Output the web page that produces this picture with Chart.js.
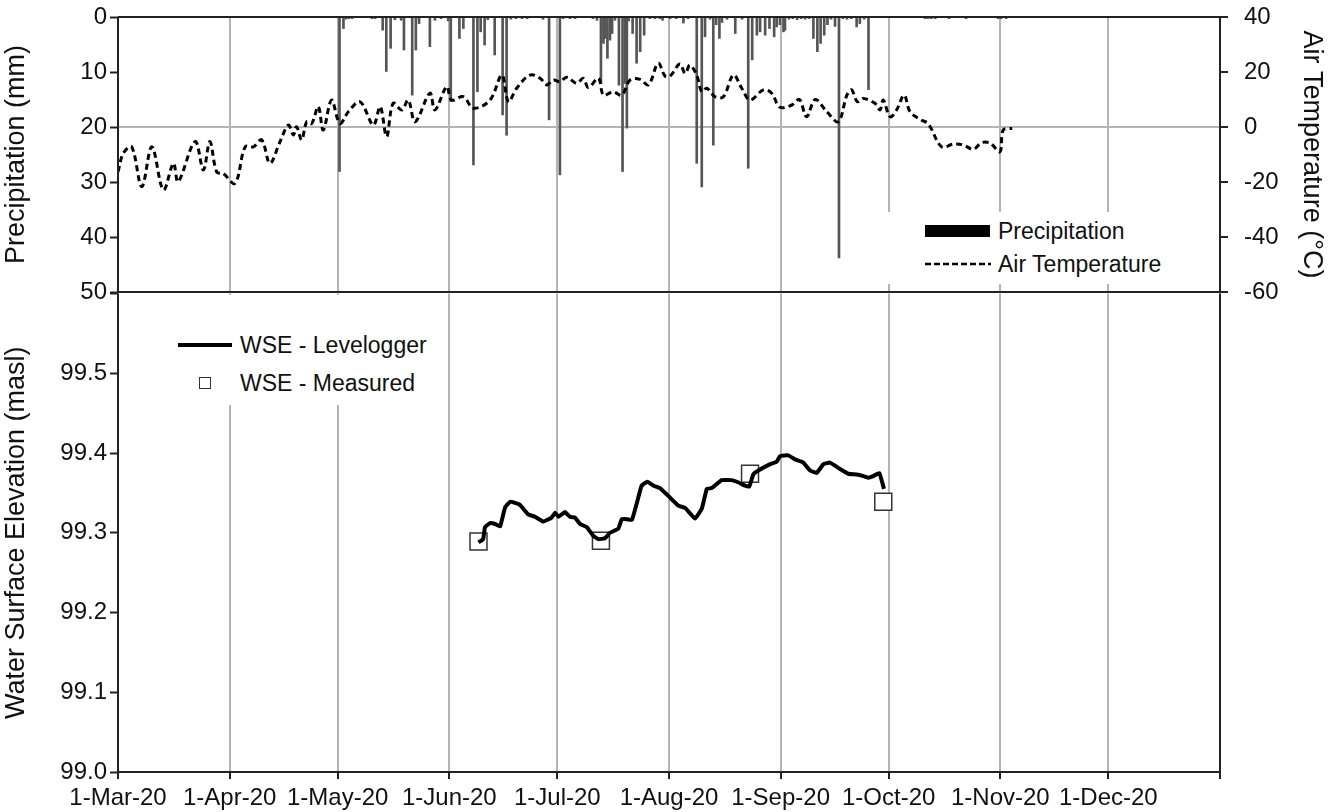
<!DOCTYPE html>
<html>

<head>
    <meta charset="utf-8">
    <script src="https://cdn.jsdelivr.net/npm/chart.js@4.4.7/dist/chart.umd.min.js"></script>
    <style>
        body { margin: 0; background: #fff; }
        #wrap { position: relative; width: 1328px; height: 812px; font-family: "Liberation Sans", Arial, sans-serif; color: #111; }
        canvas { position: absolute; left: 0; }
        .box { position: absolute; background: #fff; }
        .lbl { position: absolute; font-size: 23px; line-height: 26px; white-space: nowrap; }
    </style>
</head>

<body>
    <div id="wrap">
        <canvas id="top" width="1328" height="310" style="top:0"></canvas>
        <canvas id="bottom" width="1328" height="532" style="top:280px"></canvas>

        <!-- legend of the top panel -->
        <div class="box" style="left:878px; top:212px; width:330px; height:72px;"></div>
        <div class="box" style="left:925px; top:225px; width:65px; height:12px; background:#000;"></div>
        <div class="lbl" style="left:998px; top:218px;">Precipitation</div>
        <svg style="position:absolute; left:925px; top:262px;" width="66" height="4">
            <line x1="0" y1="2" x2="66" y2="2" stroke="#000" stroke-width="2.5" stroke-dasharray="6,3"></line>
        </svg>
        <div class="lbl" style="left:998px; top:251px;">Air Temperature</div>

        <!-- legend of the bottom panel -->
        <div class="box" style="left:140px; top:295px; width:300px; height:110px;"></div>
        <div class="box" style="left:178px; top:343px; width:54px; height:4px; background:#000;"></div>
        <div class="lbl" style="left:240px; top:332px;">WSE - Levelogger</div>
        <div class="box" style="left:199px; top:377px; width:10px; height:10px; border:1.5px solid #333;"></div>
        <div class="lbl" style="left:240px; top:370px;">WSE - Measured</div>
    </div>

    <script>
        // days counted from 1-Mar-20
        const monthDays = [0, 31, 61, 92, 122, 153, 184, 214, 245, 275, 306];
        const monthLabels = ["1-Mar-20", "1-Apr-20", "1-May-20", "1-Jun-20", "1-Jul-20", "1-Aug-20",
            "1-Sep-20", "1-Oct-20", "1-Nov-20", "1-Dec-20", ""];

        const tempDays = [0, 1.5, 3.8, 6.6, 9.4, 12.6, 15.4, 16.7, 21.4, 23.7, 25.5, 27.4, 29.2, 32.5, 35.3, 37.6,
            39.9, 42.2, 45.0, 47.3, 48.7, 49.6, 51.0, 52.4, 53.8, 55.6, 57.0, 59.3, 61.6, 64.0, 67.2, 70.9,
            72.8, 74.6, 76.4, 78.8, 80.6, 82.5, 86.6, 88.0, 91.3, 92.6, 95.9, 98.7, 103.3, 106.6, 108.4, 110.7,
            114.4, 117.2, 119.1, 120.9, 122.7, 124.6, 127.4, 129.2, 130.6, 133.4, 134.8, 137.5, 139.9, 142.2,
            145.0, 147.3, 150.0, 151.9, 153.3, 156.0, 157.5, 158.8, 160.7, 162.1, 163.5, 165.8, 168.1, 170.9,
            173.2, 175.5, 179.2, 181.5, 183.8, 187.1, 189.2, 191.2, 193.6, 196.8, 200.0, 202.4, 203.7, 205.3,
            207.0, 210.2, 211.6, 212.5, 214.4, 216.2, 218.3, 219.9, 222.7, 225.0, 228.7, 232.0, 234.7, 237.5,
            239.8, 242.2, 244.9, 245.8, 248.3];
        const tempValues = [-16.3, -9.5, -7.2, -21.7, -7.2, -22.9, -13.2, -19.9, -5.3, -15.6, -5.3, -16.3, -16.9, -20.5, -7.2, -7.2,
            -4.7, -13.2, -5.3, 0.7, -2.9, 0.1, -4.7, 1.9, 1.3, 7.4, -1.1, 9.8, 1.3, 5.6, 9.2, 0.7,
            7.4, -3.5, 8.6, 6.2, 9.8, 1.9, 12.3, 6.2, 14.7, 9.8, 11.0, 6.8, 9.8, 18.9, 9.2, 14.1,
            18.9, 17.7, 15.3, 17.1, 16.5, 18.1, 15.9, 17.7, 14.4, 17.7, 11.6, 12.8, 11.6, 17.1,
            17.3, 15.3, 23.2, 18.5, 18.5, 22.9, 19.5, 22.5, 18.9, 12.8, 14.1, 11.0, 11.0, 18.9,
            14.1, 9.8, 13.5, 12.3, 7.2, 8.0, 10.0, 3.7, 10.0, 5.6, 1.9, 11.6, 13.5, 9.2,
            10.4, 8.6, 6.2, 9.8, 3.7, 6.2, 11.6, 5.6, 2.8, 1.1, -7.2, -6.2, -6.5, -8.1,
            -5.7, -5.9, -9.0, -1.1, -0.5];

        const precipDays = [61.5, 62.6, 63.3, 64.1, 65.0, 70.5, 71.4, 73.5, 74.5, 75.7, 76.9, 78.6, 79.4, 81.7, 82.7, 83.6,
            86.6, 88.0, 89.7, 91.7, 92.4, 94.8, 95.9, 98.7, 99.8, 100.7, 101.8, 102.7, 104.6, 106.8, 107.9, 109.1,
            110.5, 112.2, 113.6, 118.0, 119.7, 122.7, 123.6, 125.5, 126.9, 131.9, 133.0, 134.1, 134.8, 135.3,
            135.9, 136.6, 137.2, 138.0, 139.1, 140.1, 140.8, 141.3, 141.8, 142.9, 144.0, 145.0, 146.1, 147.7,
            149.1, 150.5, 151.2, 153.3, 155.0, 157.0, 158.3, 160.7, 162.1, 163.0, 164.4, 165.3, 166.1, 167.0,
            167.7, 169.1, 171.4, 173.3, 175.0, 176.1, 177.4, 178.3, 179.7, 180.9, 182.2, 182.9, 183.8, 184.8,
            185.2, 186.3, 187.4, 188.6, 189.7, 190.8, 191.9, 193.1, 194.2, 195.1, 196.1, 197.0, 198.0, 199.1,
            200.2, 201.3, 202.4, 203.6, 205.1, 206.0, 207.2, 208.4, 224.1, 224.9, 225.8, 226.9, 230.8, 235.5,
            244.4, 245.2, 246.6];
        const precipValues = [28.1, 2.1, 0.4, 0.3, 0.3, 0.3, 0.3, 2.4, 9.9, 5.7, 0.5, 0.6, 6.0, 14.2, 6.0, 1.2,
            5.4, 0.6, 0.3, 0.7, 15.4, 3.9, 2.1, 26.9, 13.6, 2.7, 5.1, 0.5, 6.9, 17.8, 21.5, 0.4,
            0.3, 0.3, 0.3, 0.4, 18.7, 28.7, 0.3, 0.3, 0.3, 0.3, 0.6, 12.1, 4.8, 3.9,
            7.5, 4.2, 3.0, 0.6, 12.4, 28.1, 12.1, 20.2, 0.7, 3.0, 8.4, 6.3, 3.3, 0.3,
            0.3, 0.3, 0.6, 0.3, 0.3, 1.1, 0.3, 26.6, 30.9, 3.6, 0.4, 23.3, 1.4, 3.9,
            1.0, 0.4, 3.0, 0.4, 27.5, 7.8, 3.3, 2.7, 3.3, 2.1, 3.6, 1.8, 1.4, 2.7,
            2.4, 0.4, 0.3, 0.5, 0.3, 0.4, 0.3, 3.9, 6.3, 4.8, 3.3, 1.4, 0.4, 1.7,
            43.8, 0.3, 0.4, 0.3, 1.8, 1.2, 0.4, 13.2, 0.3, 0.3, 0.3, 0.3, 0.3, 0.3,
            0.3, 0.3, 0.3];

        const wseDays = [100.1, 101.4, 101.9, 103.3, 104.7, 106.1, 107.5, 108.9, 111.6, 113.9, 115.8, 118.1, 120.4, 121.4,
            122.3, 124.1, 125.5, 126.9, 128.3, 130.2, 132.0, 133.4, 135.2, 136.6, 138.9, 139.9, 141.3, 142.7,
            144.0, 145.4, 147.0, 148.7, 150.5, 153.3, 155.6, 157.5, 160.2, 162.1, 163.5, 164.9, 167.6, 170.4,
            172.3, 174.1, 175.3, 176.4, 177.8, 181.1, 182.9, 183.8, 186.1, 188.0, 190.3, 192.2, 194.0, 195.9,
            197.7, 200.5, 202.8, 205.1, 207.0, 208.4, 209.7, 211.4, 212.7];
        const wseValues = [99.288, 99.292, 99.307, 99.312, 99.311, 99.308, 99.332, 99.339, 99.335, 99.323, 99.320, 99.314, 99.319, 99.325,
            99.320, 99.326, 99.320, 99.319, 99.311, 99.307, 99.296, 99.292, 99.293, 99.300, 99.305, 99.317, 99.317, 99.316,
            99.336, 99.359, 99.364, 99.359, 99.356, 99.344, 99.334, 99.331, 99.318, 99.330, 99.355, 99.356, 99.366, 99.366,
            99.363, 99.359, 99.358, 99.373, 99.378, 99.386, 99.389, 99.396, 99.397, 99.392, 99.388, 99.378, 99.375, 99.386,
            99.388, 99.380, 99.374, 99.373, 99.371, 99.369, 99.371, 99.375, 99.355];

        const measuredDays = [100.1, 134.1, 175.5, 212.5];
        const measuredValues = [99.289, 99.290, 99.374, 99.339];

        Chart.defaults.font.family = '"Liberation Sans", Arial, sans-serif';
        Chart.defaults.font.size = 24;
        Chart.defaults.color = "#111";

        const gridGrey = "#b4b4b4";
        const axisDark = "#222";
        const titleFont = { size: 27 };

        // black frame round the plot area (the bottom panel leaves out its top edge)
        const frame = {
            id: "frame",
            afterDatasetsDraw(chart, args, opts) {
                const a = chart.chartArea;
                const c = chart.ctx;
                c.save();
                c.strokeStyle = axisDark;
                c.lineWidth = 2;
                c.beginPath();
                if (opts.top !== false) {
                    c.moveTo(a.left, a.top);
                    c.lineTo(a.right, a.top);
                }
                c.moveTo(a.right, a.top);
                c.lineTo(a.right, a.bottom);
                c.lineTo(a.left, a.bottom);
                c.lineTo(a.left, a.top);
                c.stroke();
                c.restore();
            }
        };

        function monthTicks(scale) {
            scale.ticks = monthDays.map(v => ({ value: v }));
        }
        // fixed axis sizes, so both panels line up
        function fixWidth(w) {
            return s => { s.width = w; s.paddingTop = 0; s.paddingBottom = 0; };
        }
        function fixHeight(h) {
            return s => { s.height = h; s.paddingLeft = 0; s.paddingRight = 0; };
        }

        new Chart(document.getElementById("top"), {
            type: "bar",
            data: {
                datasets: [{
                    type: "line",
                    label: "Air Temperature",
                    data: tempDays.map((d, i) => ({ x: d, y: tempValues[i] })),
                    yAxisID: "yT",
                    borderColor: "#000",
                    borderWidth: 3,
                    borderDash: [6, 4],
                    pointRadius: 0,
                    tension: 0.35
                }, {
                    label: "Precipitation",
                    data: precipDays.map((d, i) => ({ x: d, y: precipValues[i] })),
                    yAxisID: "yP",
                    backgroundColor: "#555",
                    barThickness: 2
                }]
            },
            options: {
                responsive: false,
                animation: false,
                layout: { padding: { top: 17, bottom: 18, left: 0, right: 0 } },
                plugins: { legend: { display: false }, tooltip: { enabled: false } },
                scales: {
                    x: {
                        type: "linear", min: 0, max: 306, offset: false,
                        afterBuildTicks: monthTicks,
                        ticks: { display: false },
                        grid: { color: gridGrey, lineWidth: 2, drawTicks: false, offset: false },
                        border: { display: false },
                        afterFit: fixHeight(0)
                    },
                    yP: {
                        position: "left", reverse: true, min: 0, max: 50,
                        ticks: { stepSize: 10, padding: 3 },
                        grid: { drawOnChartArea: false, tickLength: 8, tickColor: axisDark, tickWidth: 2 },
                        border: { display: false },
                        title: { display: true, text: "Precipitation (mm)", font: titleFont, padding: 0 },
                        afterFit: fixWidth(118)
                    },
                    yT: {
                        position: "right", min: -60, max: 40,
                        ticks: { stepSize: 20, padding: 16 },
                        grid: {
                            color: c => (c.tick && c.tick.value === 0) ? gridGrey : "rgba(0,0,0,0)",
                            lineWidth: 2, tickLength: 8, tickColor: axisDark, tickWidth: 2
                        },
                        border: { display: false },
                        title: { display: true, text: "Air Temperature (°C)", font: titleFont, padding: 0 },
                        afterFit: fixWidth(108)
                    }
                }
            },
            plugins: [frame]
        });

        new Chart(document.getElementById("bottom"), {
            type: "line",
            data: {
                datasets: [{
                    label: "WSE - Levelogger",
                    data: wseDays.map((d, i) => ({ x: d, y: wseValues[i] })),
                    borderColor: "#000",
                    borderWidth: 4,
                    pointRadius: 0,
                    tension: 0.1
                }, {
                    label: "WSE - Measured",
                    data: measuredDays.map((d, i) => ({ x: d, y: measuredValues[i] })),
                    showLine: false,
                    pointStyle: "rect",
                    pointRadius: 12,
                    backgroundColor: "#fff",
                    borderColor: "#333",
                    borderWidth: 1.5
                }]
            },
            options: {
                responsive: false,
                animation: false,
                layout: { padding: { top: 12, bottom: 0, left: 0, right: 108 } },
                plugins: { legend: { display: false }, tooltip: { enabled: false }, frame: { top: false } },
                scales: {
                    x: {
                        type: "linear", min: 0, max: 306, offset: false,
                        afterBuildTicks: monthTicks,
                        ticks: {
                            autoSkip: false, maxRotation: 0, padding: 5,
                            callback: (v, i) => monthLabels[i]
                        },
                        grid: { color: gridGrey, lineWidth: 2, tickLength: 7, tickColor: axisDark, tickWidth: 2 },
                        border: { display: false },
                        afterFit: fixHeight(40)
                    },
                    y: {
                        position: "left", min: 99.0, max: 99.6,
                        ticks: {
                            stepSize: 0.1, padding: 3,
                            callback: v => v > 99.55 ? "" : v.toFixed(1)
                        },
                        grid: { drawOnChartArea: false, tickLength: 8, tickColor: axisDark, tickWidth: 2 },
                        border: { display: false },
                        title: { display: true, text: "Water Surface Elevation (masl)", font: titleFont, padding: 0 },
                        afterFit: fixWidth(118)
                    }
                }
            },
            plugins: [frame]
        });
    </script>
</body>

</html>
